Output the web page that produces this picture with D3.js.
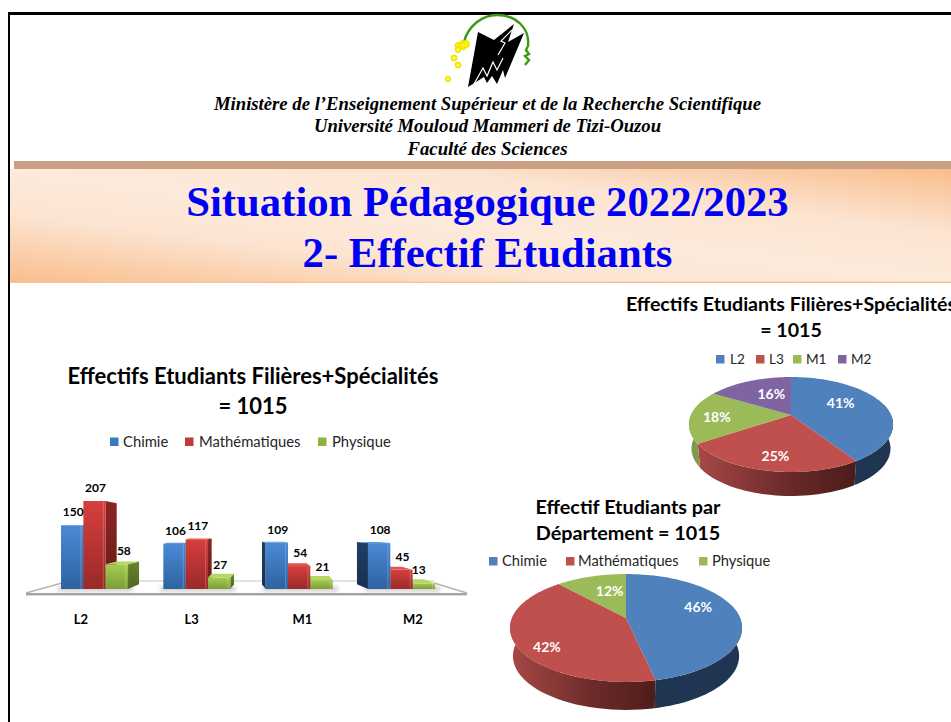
<!DOCTYPE html>
<html><head><meta charset="utf-8">
<script src="https://cdn.jsdelivr.net/npm/d3@7"></script>
<style>html,body{margin:0;padding:0;background:#fff;overflow:hidden}svg{display:block}</style>
</head><body>
<svg id="c" width="951" height="722"></svg>
<script>
// ---- data ----
const levels = ["L2","L3","M1","M2"];
const departments = ["Chimie","Mathématiques","Physique"];
const chimie = [150,106,109,108];
const mathematiques = [207,117,54,45];
const physique = [58,27,21,13];
const levelTotals = [415,250,184,166];
const levelPercentLabels = ["41%","25%","18%","16%"];
const departmentTotals = [473,423,119];
const departmentPercentLabels = ["46%","42%","12%"];
const headerLines = ["Ministère de l’Enseignement Supérieur et de la Recherche Scientifique","Université Mouloud Mammeri de Tizi-Ouzou","Faculté des Sciences"];
const bannerLines = ["Situation Pédagogique 2022/2023","2- Effectif Etudiants"];
const barTitle = ["Effectifs Etudiants Filières+Spécialités","= 1015"];
const pieLevelTitle = ["Effectifs Etudiants Filières+Spécialités","= 1015"];
const pieDeptTitle = ["Effectif Etudiants par","Département = 1015"];

// ---- setup ----
const SANS = "Lato, Carlito, 'Open Sans', sans-serif";
const svg = d3.select("#c");
const defs = svg.append("defs");
function grad(id, stops, x1=0,y1=0,x2=0,y2=1){
  const g = defs.append("linearGradient").attr("id",id)
    .attr("x1",x1).attr("y1",y1).attr("x2",x2).attr("y2",y2);
  stops.forEach(s=>g.append("stop").attr("offset",s[0]).attr("stop-color",s[1]));
}
grad("banner",[[0,"#f9bd8b"],[0.3,"#fce4d1"],[0.5,"#fdeadb"],[0.72,"#fce4d1"],[1,"#f9bd8b"]],0,1,1,0);
grad("fBlue",[[0,"#4a8ad6"],[1,"#2f629f"]]);
grad("fRed",[[0,"#d63f3d"],[1,"#992a28"]]);
grad("fGreen",[[0,"#a6cc4e"],[1,"#7c9e3a"]]);
grad("sBlue",[[0,"#1f3f66"],[1,"#173050"]]);
grad("sRed",[[0,"#8a2524"],[1,"#661c1b"]]);
grad("sGreen",[[0,"#67842f"],[1,"#4f6624"]]);
grad("sideRed1",[[0,"#a84846"],[0.55,"#6b2b2a"],[1,"#4a1c1b"]],0,0,1,0);
grad("sideRed2",[[0,"#a84846"],[0.55,"#6d2c2b"],[1,"#4e1d1c"]],0,0,1,0);
defs.append("filter").attr("id","blur").attr("x","-20%").attr("y","-100%").attr("width","140%").attr("height","300%")
  .append("feGaussianBlur").attr("stdDeviation",2.2);

// ---- page frame & header ----
svg.append("rect").attr("width",951).attr("height",722).attr("fill","#fff");
svg.append("rect").attr("x",8).attr("y",12).attr("width",943).attr("height",3).attr("fill","#000");
svg.append("rect").attr("x",8).attr("y",12).attr("width",2).attr("height",710).attr("fill","#000");

// logo
const logo = svg.append("g");
logo.append("path").attr("fill","none").attr("stroke","#3c9a12").attr("stroke-width",2.4)
  .attr("d","M464,42 C468,26 482,15 497,15 C516,15 530,28 528,46 L526,50 L529,54 L525,56 L529,60 L525,65");
logo.append("path").attr("fill","#000")
  .attr("d","M478,32 L494,40 L514,24 L508,42 L524,33 L505,78 L503,70 L497,84 L492,76 L487,83 L484,77 L468,87 Z");
logo.append("path").attr("fill","none").attr("stroke","#fff").attr("stroke-width",1.2)
  .attr("d","M512,30 L501,41 L505,43 L498,55 M474,84 L483,68 L487,76 L493,62 L497,70 L503,58");
[[463,45,4.5],[458,45.5,3],[458,49.5,3],[454,58,3],[458,65,3],[448,79,2.8],[466,44,3.5]].forEach(c=>{
  logo.append("circle").attr("cx",c[0]).attr("cy",c[1]).attr("r",c[2]).attr("fill","#fff200").attr("stroke","#e6d800").attr("stroke-width",.8);
});
logo.selectAll(".d").data([[463,45],[458,50],[454,58],[458,65],[448,79]]).join("circle")
  .attr("cx",d=>d[0]).attr("cy",d=>d[1]).attr("r",1).attr("fill","#fffbb0");

svg.selectAll(".hdr").data(headerLines).join("text").attr("class","hdr")
  .attr("x",487.5).attr("y",(d,i)=>[110,132,155][i]).attr("text-anchor","middle")
  .style("font","italic bold 18.7px 'Liberation Serif', serif").attr("fill","#000").text(d=>d);

svg.append("rect").attr("x",14).attr("y",161).attr("width",937).attr("height",8).attr("fill","#c9a182");
svg.append("rect").attr("x",10).attr("y",169).attr("width",941).attr("height",114).attr("fill","url(#banner)");
svg.append("rect").attr("x",10).attr("y",281.5).attr("width",941).attr("height",1.5).attr("fill","#fbc393");
svg.selectAll(".bnr").data(bannerLines).join("text").attr("class","bnr")
  .attr("x",487.5).attr("y",(d,i)=>[216,267][i]).attr("text-anchor","middle")
  .style("font","bold 42.7px 'Liberation Serif', serif").attr("fill","#0000f5").text(d=>d);

// helpers
function titleBlock(lines,cx,ys,size){
  svg.append("g").selectAll("text").data(lines).join("text")
    .attr("x",cx).attr("y",(d,i)=>ys[i]).attr("text-anchor","middle")
    .style("font",`bold ${size}px ${SANS}`).attr("fill","#000").text(d=>d);
}
function legend(items,colors,sqX,txtX,y,size){
  const g = svg.append("g");
  g.selectAll("rect").data(items).join("rect")
    .attr("x",(d,i)=>sqX[i]).attr("y",y-4).attr("width",8.5).attr("height",8.5).attr("fill",(d,i)=>colors[i]);
  g.selectAll("text").data(items).join("text")
    .attr("x",(d,i)=>txtX[i]).attr("y",y+5).style("font",`${size}px ${SANS}`).attr("fill","#262626").text(d=>d);
}

// ---- 3D bar chart ----
titleBlock(barTitle,253,[384,414],22);
legend(departments,["#3a78c0","#c33b39","#8bb43f"],[110,185,318],[123,199,332],441.5,14.8);

const x0 = d3.scaleBand().domain(levels).range([60,436]).paddingInner(0.345).paddingOuter(0.01);
const x1 = d3.scaleBand().domain(departments).range([0,x0.bandwidth()]);
const yBar = d3.scaleLinear().domain([0,207]).range([589,501]);
const xLab = d3.scalePoint().domain(levels).range([81,413]);
const depthX = d3.scalePoint().domain(levels).range([11,-11]);
const horizon = 530, tilt = 0.08;
const backY = y => y-(y-horizon)*tilt;
const barSeries = [chimie,mathematiques,physique];
const face = ["fBlue","fRed","fGreen"], side = ["sBlue","sRed","sGreen"], topc = ["#5b9be2","#e05552","#b5d763"];

// floor
const floor = svg.append("g");
floor.append("rect").attr("x",62).attr("y",580).attr("width",372).attr("height",2).attr("fill","#e2e2e2");
floor.append("path").attr("d","M26,593 L62,583 M467,593 L434,583").attr("stroke","#b5b5b5").attr("stroke-width",1.5).attr("fill","none");
floor.append("rect").attr("x",26).attr("y",593).attr("width",441).attr("height",2.4).attr("fill","#a3a3a3");
levels.forEach(l=>{
  floor.append("rect").attr("x",x0(l)-3).attr("y",587).attr("width",x0.bandwidth()+8).attr("height",4)
    .attr("fill","#999").attr("opacity",.6).attr("filter","url(#blur)");
});

const bars = svg.append("g");
levels.forEach((lvl,li)=>{
  const dx = depthX(lvl);
  const order = dx>0 ? [0,1,2] : [2,1,0];
  order.forEach(si=>{
    const v = barSeries[si][li], X = x0(lvl)+x1(departments[si]), W = x1.bandwidth(), T = yBar(v), B = yBar(0);
    const bT = backY(T), bB = backY(B);
    const g = bars.append("g");
    const edge = dx>0 ? X+W : X;
    g.append("path").attr("d",`M${edge},${T} L${edge+dx},${bT} L${edge+dx},${bB} L${edge},${B}Z`).attr("fill",`url(#${side[si]})`);
    if(bT<T) g.append("path").attr("d",`M${X},${T} L${X+dx},${bT} L${X+W+dx},${bT} L${X+W},${T}Z`).attr("fill",topc[si]);
    g.append("rect").attr("x",X).attr("y",T).attr("width",W).attr("height",Math.max(B-T,0)).attr("fill",`url(#${face[si]})`);
    g.append("rect").attr("x",X+W-3).attr("y",T).attr("width",1.2).attr("height",Math.max(B-T,0)).attr("fill","#fff").attr("opacity",.18);
  });
});
// value labels
const labG = svg.append("g");
levels.forEach((lvl,li)=>{
  barSeries.forEach((s,si)=>{
    const nudge = li===0&&si===2 ? 7 : li===3&&si===2 ? -5 : 1;
    labG.append("text").attr("x",x0(lvl)+x1(departments[si])+x1.bandwidth()/2+nudge)
      .attr("y",yBar(s[li])-9).attr("text-anchor","middle")
      .style("font",`bold 12px ${SANS}`).attr("fill","#000").text(s[li]);
  });
});
svg.append("g").selectAll("text").data(levels).join("text")
  .attr("x",d=>xLab(d)).attr("y",624).attr("text-anchor","middle")
  .style("font",`bold 13px ${SANS}`).attr("fill","#000").text(d=>d);

// ---- perspective pies ----
function pie3d(cfg){
  const {values,labels,cx,cy,R,a,k,depth,colors,sideFills,nudges} = cfg;
  const proj = (t,r=1,d=0)=>{
    const u=r*Math.sin(t), v=-r*Math.cos(t), den=1-k*v, s=d?0.975:1;
    return [cx+s*R*u/den, cy+a*v/den+d];
  };
  const arcs = d3.pie().sort(null).value(d=>d)(values);
  const g = svg.append("g");
  arcs.forEach((ar,i)=>{
    const s=Math.max(ar.startAngle,Math.PI*0.42), e=Math.min(ar.endAngle,Math.PI*1.62);
    if(e<=s) return;
    const ts=d3.range(0,41).map(n=>s+(e-s)*n/40);
    const pts=ts.map(t=>proj(t)).concat(ts.slice().reverse().map(t=>proj(t,1,depth)));
    g.append("path").attr("d",d3.line()(pts)+"Z").attr("fill",sideFills[i]);
  });
  arcs.forEach((ar,i)=>{
    const ts=d3.range(0,81).map(n=>ar.startAngle+(ar.endAngle-ar.startAngle)*n/80);
    const pts=[[cx,cy]].concat(ts.map(t=>proj(t)));
    g.append("path").attr("d",d3.line()(pts)+"Z").attr("fill",colors[i]);
  });
  arcs.forEach((ar,i)=>{
    const p=proj((ar.startAngle+ar.endAngle)/2,0.6);
    g.append("text").attr("x",p[0]+nudges[i][0]).attr("y",p[1]+nudges[i][1]+5)
      .attr("text-anchor","middle").style("font",`bold 14px ${SANS}`).attr("fill","#fff").text(labels[i]);
  });
}
const pieColors = ["#4f81bd","#c0504d","#9bbb59","#8064a2"];

titleBlock(pieLevelTitle,791,[311,337],19.6);
legend(levels,pieColors,[716,756,793,838],[730,769,806,851],359,13.6);
pie3d({values:levelTotals,labels:levelPercentLabels,cx:791,cy:415,R:100,a:45.6,k:0.2,depth:24,
  colors:pieColors,sideFills:["#1f3552","url(#sideRed1)","#7f9a48","#604a7b"],
  nudges:[[-6,-5],[-2,11],[-14,1],[7,1]]});

titleBlock(pieDeptTitle,628,[514,540],19.8);
legend(departments,pieColors,[489,566,699],[502,578,712],561,14.7);
pie3d({values:departmentTotals,labels:departmentPercentLabels,cx:626,cy:618,R:114,a:52.1,k:0.185,depth:28,
  colors:pieColors,sideFills:["#1f3552","url(#sideRed2)","#7f9a48"],
  nudges:[[5,-8],[-15,14],[6,-1]]});
</script>
</body></html>
